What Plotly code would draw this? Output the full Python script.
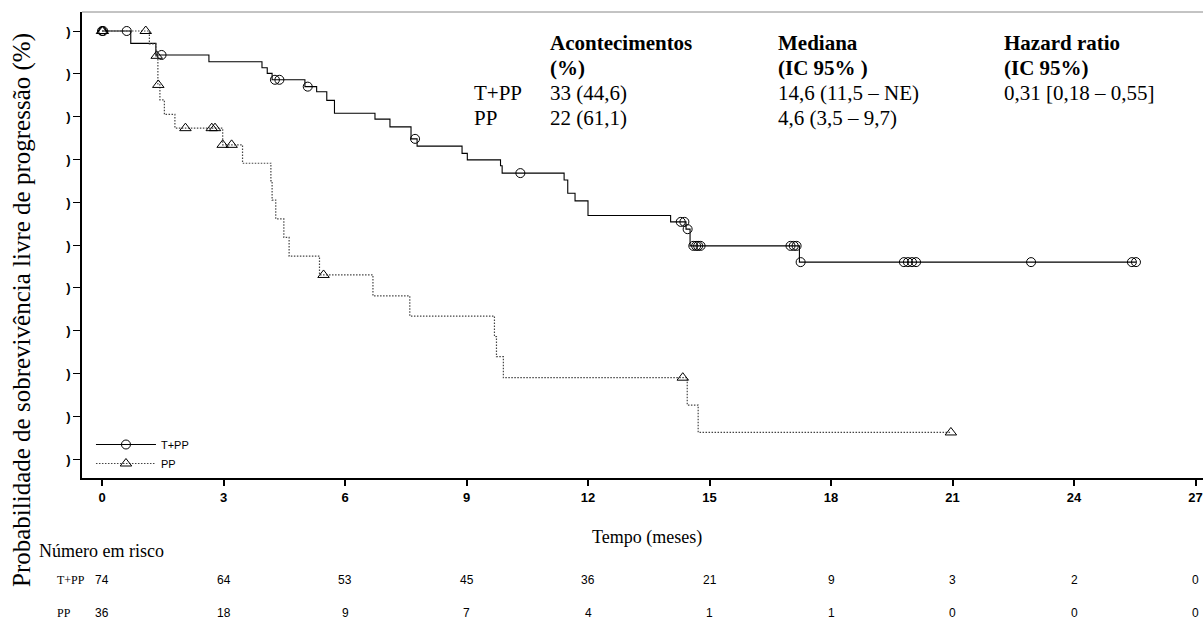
import plotly.graph_objects as go
import bisect

# ---------------- data ----------------
tpp_times = [0, 0.71, 1.33, 2.64, 3.95, 4.08, 4.20, 5.01, 5.30, 5.55, 5.74, 6.74, 7.11, 7.63, 7.78,
             8.89, 9.02, 9.84, 9.88, 11.41, 11.50, 11.68, 12.00, 14.04, 14.42, 14.52, 17.22]
tpp_surv = [1.0, 0.971, 0.944, 0.928, 0.914, 0.901, 0.886, 0.870, 0.858, 0.838, 0.808, 0.794, 0.776,
            0.748, 0.731, 0.714, 0.699, 0.685, 0.668, 0.652, 0.621, 0.603, 0.569, 0.554, 0.537, 0.498, 0.460]
tpp_end = 25.53
tpp_censor = [0, 0.03, 0.61, 1.47, 4.27, 4.38, 5.08, 7.73, 10.33, 14.29, 14.38, 14.46, 14.60, 14.67,
              14.72, 14.78, 17.00, 17.08, 17.15, 17.25, 19.80, 19.90, 20.00, 20.10, 22.94, 25.43, 25.53]

pp_times = [0, 1.17, 1.33, 1.38, 1.43, 1.54, 1.80, 2.98, 3.47, 4.17, 4.20, 4.29, 4.49, 4.62, 5.37,
            6.69, 7.60, 9.69, 9.74, 9.91, 14.45, 14.72]
pp_surv = [1.0, 0.970, 0.942, 0.874, 0.839, 0.805, 0.773, 0.734, 0.691, 0.650, 0.605, 0.561, 0.518,
           0.474, 0.430, 0.381, 0.334, 0.286, 0.239, 0.190, 0.126, 0.062]
pp_end = 20.96
pp_censor = [0, 0.02, 1.08, 1.35, 1.39, 2.06, 2.71, 2.79, 2.98, 3.20, 5.47, 14.34, 20.96]

x_ticks = [0, 3, 6, 9, 12, 15, 18, 21, 24, 27]
y_ticks = [0, 0.1, 0.2, 0.3, 0.4, 0.5, 0.6, 0.7, 0.8, 0.9, 1.0]
y_ticktext = [")"] * 11

risk_times = [0, 3, 6, 9, 12, 15, 18, 21, 24, 27]
risk_tpp = [74, 64, 53, 45, 36, 21, 9, 3, 2, 0]
risk_pp = [36, 18, 9, 7, 4, 1, 1, 0, 0, 0]

stat_rows = [
    ["<b>Acontecimentos</b>", "<b>Mediana</b>", "<b>Hazard ratio</b>"],
    ["<b>(%)</b>", "<b>(IC 95% )</b>", "<b>(IC 95%)</b>"],
    ["33 (44,6)", "14,6 (11,5 – NE)", "0,31 [0,18 – 0,55]"],
    ["22 (61,1)", "4,6 (3,5 – 9,7)", ""],
]
stat_groups = ["", "", "T+PP", "PP"]


def surv_at(times, surv, t):
    i = bisect.bisect_right(times, t) - 1
    return surv[max(i, 0)]


# ---------------- layout geometry (pixels) ----------------
FW, FH = 1203, 621
L, R, T, B = 82, 1203, 12, 478
W, H = R - L, B - T


def px(xp):
    return (xp - L) / W


def py(yp):
    return (B - yp) / H


SERIF = "Liberation Serif, Times New Roman, serif"
SANS = "Liberation Sans, Arial, sans-serif"
PP_DASH = "1.5px,1.5px"

fig = go.Figure()

# step curves
fig.add_trace(go.Scatter(x=tpp_times + [tpp_end], y=tpp_surv + [tpp_surv[-1]], mode="lines",
                         line=dict(color="black", width=1.1, shape="hv"), showlegend=False,
                         hoverinfo="skip"))
fig.add_trace(go.Scatter(x=pp_times + [pp_end], y=pp_surv + [pp_surv[-1]], mode="lines",
                         line=dict(color="#444444", width=1.2, shape="hv", dash=PP_DASH),
                         showlegend=False, hoverinfo="skip"))
# censor marks
fig.add_trace(go.Scatter(x=tpp_censor, y=[surv_at(tpp_times, tpp_surv, t) for t in tpp_censor],
                         mode="markers", showlegend=False, hoverinfo="skip",
                         marker=dict(symbol="circle-open", size=9, color="black", line=dict(width=1))))
fig.add_trace(go.Scatter(x=pp_censor, y=[surv_at(pp_times, pp_surv, t) for t in pp_censor],
                         mode="markers", showlegend=False, hoverinfo="skip",
                         marker=dict(symbol="triangle-up-open", size=10, color="black",
                                     line=dict(width=1))))
# legend entries
fig.add_trace(go.Scatter(x=[None], y=[None], mode="lines+markers", name="T+PP",
                         line=dict(color="black", width=1.1),
                         marker=dict(symbol="circle-open", size=9, color="black")))
fig.add_trace(go.Scatter(x=[None], y=[None], mode="lines+markers", name="PP",
                         line=dict(color="#444444", width=1.2, dash=PP_DASH),
                         marker=dict(symbol="triangle-up-open", size=10, color="black")))

x_min = -(102 - L) / 40.5
x_max = x_min + W / 40.5
y_min = -(B - 459) / 428
y_max = 1 + (459 - 428 - T) / 428

fig.update_xaxes(range=[x_min, x_max], tickvals=x_ticks, ticktext=[str(v) for v in x_ticks],
                 showgrid=False, zeroline=False, showline=True, linecolor="black", linewidth=2,
                 ticks="outside", ticklen=6, tickwidth=1.5, tickcolor="black",
                 tickfont=dict(family=SANS, size=13, color="black", weight="bold"))
fig.update_yaxes(range=[y_min, y_max], tickvals=y_ticks, ticktext=y_ticktext,
                 showgrid=False, zeroline=False, showline=True, linecolor="black", linewidth=1.5,
                 ticks="outside", ticklen=7, tickwidth=1.2, tickcolor="black",
                 tickfont=dict(family=SANS, size=13, color="black", weight="bold"))

annotations = []
# stats table
col_x = [548, 776, 1002]
row_y = [43, 68, 93, 118]
for r, row in enumerate(stat_rows):
    for c, txt in enumerate(row):
        if txt:
            annotations.append(dict(x=px(col_x[c]), y=py(row_y[r]), xref="paper", yref="paper",
                                    text=txt, showarrow=False, xanchor="left", yanchor="middle",
                                    font=dict(family=SERIF, size=21, color="black")))
    if stat_groups[r]:
        annotations.append(dict(x=px(472), y=py(row_y[r]), xref="paper", yref="paper",
                                text=stat_groups[r], showarrow=False, xanchor="left",
                                yanchor="middle", font=dict(family=SERIF, size=21, color="black")))

# axis titles
annotations.append(dict(x=px(22), y=py(310), xref="paper", yref="paper",
                        text="Probabilidade de sobrevivência livre de progressão (%)",
                        textangle=-90, showarrow=False, xanchor="center", yanchor="middle",
                        font=dict(family=SERIF, size=25, color="black")))
annotations.append(dict(x=px(647), y=py(537), xref="paper", yref="paper", text="Tempo (meses)",
                        showarrow=False, xanchor="center", yanchor="middle",
                        font=dict(family=SERIF, size=18, color="black")))
annotations.append(dict(x=px(37), y=py(551), xref="paper", yref="paper", text="Número em risco",
                        showarrow=False, xanchor="left", yanchor="middle",
                        font=dict(family=SERIF, size=18, color="black")))

# numbers at risk
for label, vals, yp in [("T+PP", risk_tpp, 580), ("PP", risk_pp, 613)]:
    annotations.append(dict(x=px(55), y=py(yp), xref="paper", yref="paper", text=label,
                            showarrow=False, xanchor="left", yanchor="middle",
                            font=dict(family=SERIF, size=12, color="black")))
    for t, v in zip(risk_times, vals):
        annotations.append(dict(x=t, y=py(yp), xref="x", yref="paper", text=str(v),
                                showarrow=False, xanchor="center", yanchor="middle",
                                font=dict(family=SANS, size=12, color="black")))

shapes = [dict(type="line", xref="paper", yref="paper", x0=0, x1=1, y0=1, y1=1,
               line=dict(color="#888888", width=1))]

fig.update_layout(
    width=FW, height=FH,
    margin=dict(l=L, r=FW - R, t=T, b=FH - B, autoexpand=False),
    paper_bgcolor="white", plot_bgcolor="white",
    annotations=annotations, shapes=shapes,
    showlegend=True,
    legend=dict(x=0.008, y=0.0, xanchor="left", yanchor="bottom", bgcolor="rgba(0,0,0,0)",
                font=dict(family=SANS, size=11, color="black"), itemwidth=60,
                tracegroupgap=0),
)

fig.write_html("out.html", config={"displayModeBar": False},
               post_script="document.body.style.margin='0';document.body.style.overflow='hidden';")
